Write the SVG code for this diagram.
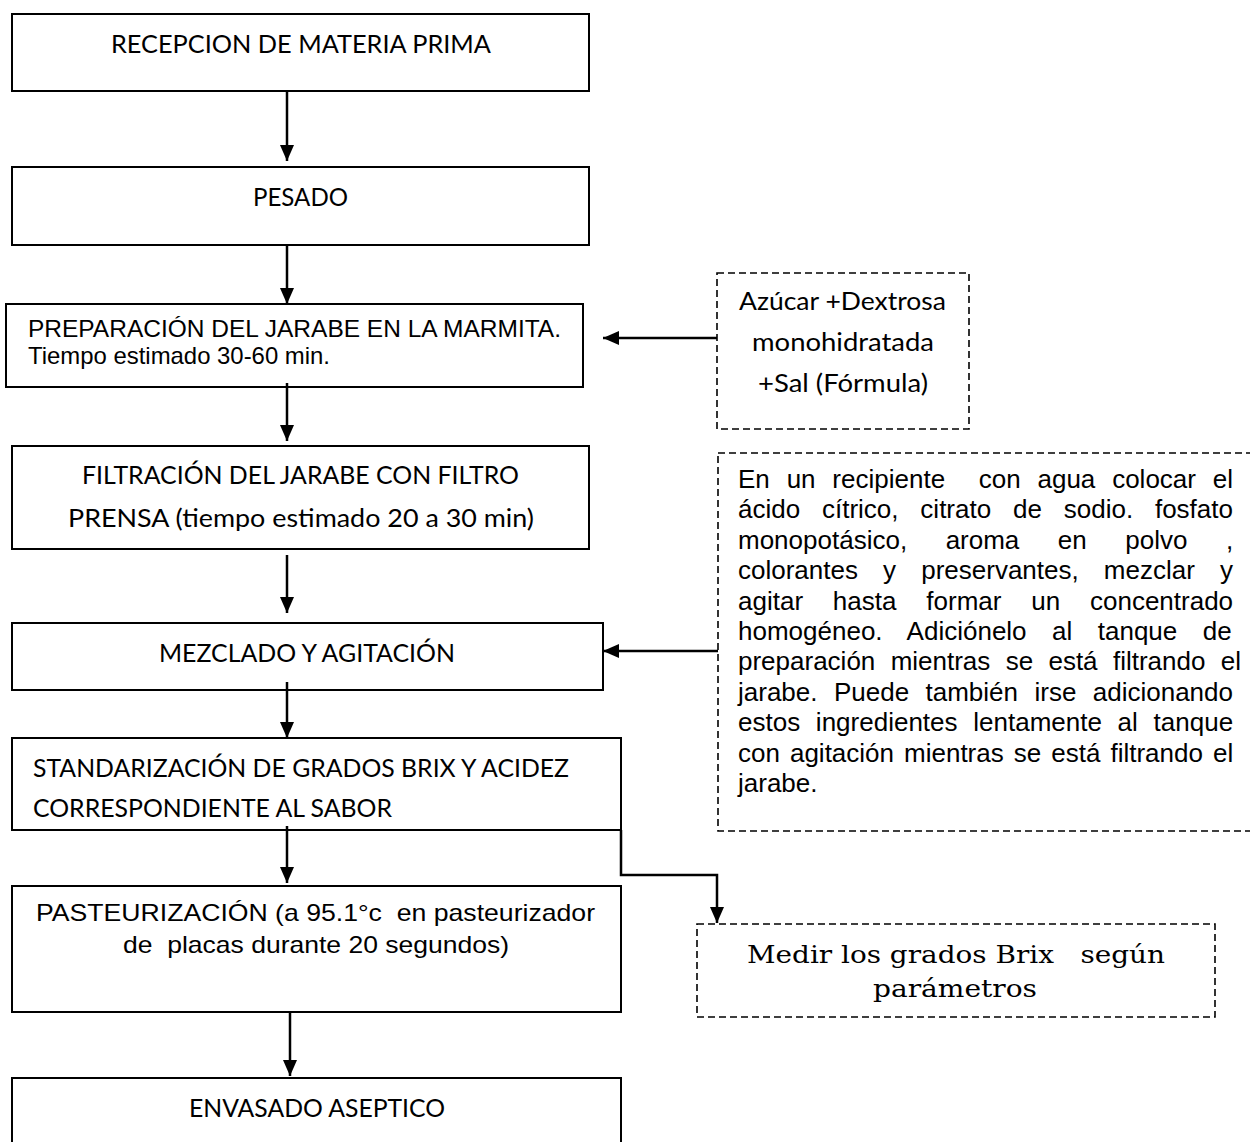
<svg xmlns="http://www.w3.org/2000/svg" width="1250" height="1142" viewBox="0 0 1250 1142">
<style>
.box{fill:#fff;stroke:#000;stroke-width:2}
.dbox{fill:#fff;stroke:#000;stroke-width:1.6;stroke-dasharray:7 4}
.cal{font-family:Lato,"Open Sans",sans-serif;font-size:25px;fill:#000}
.ari{font-family:"Liberation Sans",Arial,sans-serif;font-size:24px;fill:#000}
.j{font-family:"Liberation Sans",Arial,sans-serif;font-size:26px;fill:#000;white-space:pre}
.ser{font-family:"DejaVu Serif","Liberation Serif",serif;font-size:25px;fill:#000;white-space:pre}
.con{fill:none;stroke:#000;stroke-width:2.5}
</style>
<defs>
<marker id="ah" viewBox="0 0 16 14" refX="16" refY="7" markerWidth="16" markerHeight="14" markerUnits="userSpaceOnUse" orient="auto">
<path d="M0,0 L16,7 L0,14 z" fill="#000"/>
</marker>
</defs>

<g id="n1">
<rect class="box" x="12" y="14" width="577" height="77"/>
<text class="cal" x="111" y="53" textLength="380" lengthAdjust="spacingAndGlyphs">RECEPCION DE MATERIA PRIMA</text>
</g>
<g id="n2">
<rect class="box" x="12" y="167" width="577" height="78"/>
<text class="cal" x="253" y="206" textLength="95" lengthAdjust="spacingAndGlyphs">PESADO</text>
</g>
<g id="n3">
<rect class="box" x="6" y="304" width="577" height="83"/>
<text class="ari" x="28" y="337" textLength="533" lengthAdjust="spacingAndGlyphs">PREPARACIÓN DEL JARABE EN LA MARMITA.</text>
<text class="ari" x="28" y="364" textLength="302" lengthAdjust="spacingAndGlyphs">Tiempo estimado 30-60 min.</text>
</g>
<g id="n4">
<rect class="box" x="12" y="446" width="577" height="103"/>
<text class="cal" x="82" y="484" textLength="437" lengthAdjust="spacingAndGlyphs">FILTRACIÓN DEL JARABE CON FILTRO</text>
<text class="cal" x="68" y="527" textLength="466" lengthAdjust="spacingAndGlyphs">PRENSA (tiempo estimado 20 a 30 min)</text>
</g>
<g id="n5">
<rect class="box" x="12" y="623" width="591" height="67"/>
<text class="cal" x="159" y="662" textLength="296" lengthAdjust="spacingAndGlyphs">MEZCLADO Y AGITACIÓN</text>
</g>
<g id="n6">
<rect class="box" x="12" y="738" width="609" height="92"/>
<text class="cal" x="33" y="777" textLength="536" lengthAdjust="spacingAndGlyphs">STANDARIZACIÓN DE GRADOS BRIX Y ACIDEZ</text>
<text class="cal" x="33" y="817" textLength="359" lengthAdjust="spacingAndGlyphs">CORRESPONDIENTE AL SABOR</text>
</g>
<g id="n7">
<rect class="box" x="12" y="886" width="609" height="126"/>
<text class="ari" x="36" y="921" textLength="559" lengthAdjust="spacingAndGlyphs" style="white-space:pre">PASTEURIZACIÓN (a 95.1°c  en pasteurizador</text>
<text class="ari" x="123" y="953" textLength="386" lengthAdjust="spacingAndGlyphs" style="white-space:pre">de  placas durante 20 segundos)</text>
</g>
<g id="n8">
<rect class="box" x="12" y="1078" width="609" height="100"/>
<text class="cal" x="189" y="1117" textLength="256" lengthAdjust="spacingAndGlyphs">ENVASADO ASEPTICO</text>
</g>
<g id="n9">
<rect class="dbox" x="717" y="273" width="252" height="156"/>
<text class="cal" x="739" y="310" textLength="207" lengthAdjust="spacingAndGlyphs">Azúcar +Dextrosa</text>
<text class="cal" x="752" y="351" textLength="182" lengthAdjust="spacingAndGlyphs">monohidratada</text>
<text class="cal" x="758" y="392" textLength="170" lengthAdjust="spacingAndGlyphs">+Sal (Fórmula)</text>
</g>
<g id="n10">
<rect class="dbox" x="718" y="453" width="540" height="378"/>
<text class="j" x="738" y="488" word-spacing="9.6">En un recipiente  con agua colocar el</text>
<text class="j" x="738" y="518.4" word-spacing="14.6">ácido cítrico, citrato de sodio. fosfato</text>
<text class="j" x="738" y="548.8" word-spacing="31.3">monopotásico, aroma en polvo ,</text>
<text class="j" x="738" y="579.2" word-spacing="17.9">colorantes y preservantes, mezclar y</text>
<text class="j" x="738" y="609.6" word-spacing="22.6">agitar hasta formar un concentrado</text>
<text class="j" x="738" y="640" word-spacing="18.25">homogéneo. Adiciónelo al tanque de</text>
<text class="j" x="738" y="670.4" word-spacing="8.1">preparación mientras se está filtrando el</text>
<text class="j" x="738" y="700.8" word-spacing="9.2">jarabe. Puede también irse adicionando</text>
<text class="j" x="738" y="731.2" word-spacing="8.5">estos ingredientes lentamente al tanque</text>
<text class="j" x="738" y="761.6" word-spacing="2.8">con agitación mientras se está filtrando el</text>
<text class="j" x="738" y="792">jarabe.</text>
</g>
<g id="n11">
<rect class="dbox" x="697" y="924" width="518" height="93"/>
<text class="ser" x="747" y="963" textLength="418" lengthAdjust="spacingAndGlyphs">Medir los grados Brix   según</text>
<text class="ser" x="873" y="997" textLength="164" lengthAdjust="spacingAndGlyphs">parámetros</text>
</g>

<g id="connectors">
<line class="con" x1="287" y1="91" x2="287" y2="161" marker-end="url(#ah)"/>
<line class="con" x1="287" y1="246" x2="287" y2="304" marker-end="url(#ah)"/>
<line class="con" x1="287" y1="383" x2="287" y2="441" marker-end="url(#ah)"/>
<line class="con" x1="287" y1="555" x2="287" y2="613" marker-end="url(#ah)"/>
<line class="con" x1="287" y1="682" x2="287" y2="738" marker-end="url(#ah)"/>
<line class="con" x1="287" y1="826" x2="287" y2="883" marker-end="url(#ah)"/>
<line class="con" x1="290" y1="1012" x2="290" y2="1076" marker-end="url(#ah)"/>
<line class="con" x1="717" y1="338" x2="603" y2="338" marker-end="url(#ah)"/>
<line class="con" x1="718" y1="651" x2="603" y2="651" marker-end="url(#ah)"/>
<path class="con" d="M621,830 V875 H717 V923" marker-end="url(#ah)"/>
</g>
</svg>
